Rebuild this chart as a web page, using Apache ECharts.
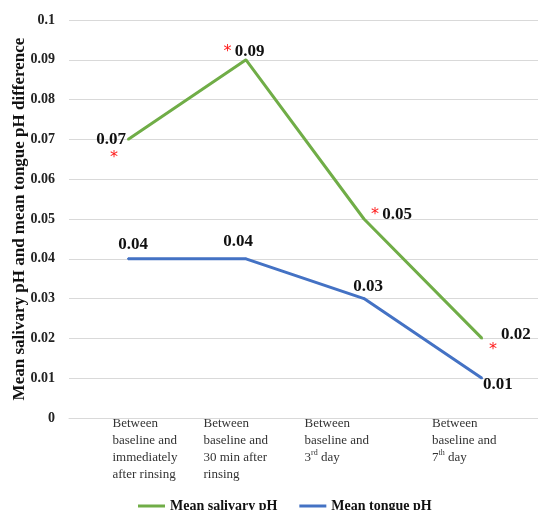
<!DOCTYPE html>
<html>
<head>
<meta charset="utf-8">
<script src="https://cdn.jsdelivr.net/npm/echarts@6/dist/echarts.min.js"></script>
<style>html,body{margin:0;padding:0;background:#fff}#c{width:538px;height:510px}</style>
</head>
<body>
<div id="c"></div>
<script>
const categories = [
  'Between\nbaseline and\nimmediately\nafter rinsing',
  'Between\nbaseline and\n30 min after\nrinsing',
  'Between\nbaseline and\n3rd day',
  'Between\nbaseline and\n7th day'
];
const salivary = [0.07, 0.09, 0.05, 0.02];
const tongue = [0.04, 0.04, 0.03, 0.01];
const salivarySig = [true, true, true, true];
const yTicks = [0, 0.01, 0.02, 0.03, 0.04, 0.05, 0.06, 0.07, 0.08, 0.09, 0.1];
const seriesNames = ['Mean salivary pH', 'Mean tongue pH'];

const SERIF = '"Liberation Serif","Times New Roman",serif';
const labelWidths = [31, 85, 119, 100];

function fmtCat(value, idx) {
  return value.split('\n').map(function (line) {
    const m = line.match(/^(\d+)(st|nd|rd|th)(.*)$/);
    if (m) return '{t|' + m[1] + '}{sup|' + m[2] + '}{t|' + m[3] + '}';
    return '{w' + idx + '|' + line + '}';
  }).join('\n');
}
const catRich = {
  t: {align: 'left', fontFamily: SERIF, fontSize: 13, color: '#333', lineHeight: 17},
  sup: {align: 'left', fontFamily: SERIF, fontSize: 8, color: '#333', lineHeight: 11, verticalAlign: 'top'}
};
labelWidths.forEach(function (w, i) {
  catRich['w' + i] = {width: w, align: 'left', fontFamily: SERIF, fontSize: 13, color: '#333', lineHeight: 17};
});

const valStyle = {fontFamily: SERIF, fontWeight: 'bold', fontSize: 17, color: '#111'};
const starStyle = {fontFamily: '"DejaVu Sans",sans-serif', fontSize: 16, color: '#ff1a1a'};

const gLabels = [
  {fmt: '{v|0.07}\n{s|*}{g|}', align: 'right', offset: [-2, 9],
   rich: {v: Object.assign({lineHeight: 18}, valStyle), s: Object.assign({lineHeight: 18}, starStyle), g: {width: 8, lineHeight: 18}}},
  {fmt: '{s|*} {v|0.09}', align: 'center', offset: [-2, -8],
   rich: {v: valStyle, s: starStyle}},
  {fmt: '{s|*} {v|0.05}', align: 'left', offset: [7, -4],
   rich: {v: valStyle, s: starStyle}},
  {fmt: '{p|}{v|0.02}\n{s|*}', align: 'left', offset: [7, 3],
   rich: {p: {width: 12, lineHeight: 16}, v: Object.assign({lineHeight: 16}, valStyle), s: Object.assign({lineHeight: 14}, starStyle)}}
];
const bLabels = [
  {align: 'center', offset: [5, -14]},
  {align: 'center', offset: [-8, -17]},
  {align: 'center', offset: [4, -12]},
  {align: 'left', offset: [1, 6]}
];

const green = '#70AD47', blue = '#4472C4';

const option = {
  animation: false,
  backgroundColor: '#fff',
  grid: {left: 69, top: 20, width: 472, height: 398, containLabel: false, outerBoundsMode: 'none'},
  legend: {
    data: seriesNames,
    left: 133, top: 494,
    icon: 'rect', itemWidth: 27, itemHeight: 3, itemGap: 22,
    textStyle: {fontFamily: SERIF, fontWeight: 'bold', fontSize: 14, color: '#111'}
  },
  xAxis: {
    type: 'category',
    data: categories,
    boundaryGap: true,
    axisLine: {show: true, lineStyle: {color: '#d9d9d9', width: 1}},
    axisTick: {show: false},
    axisLabel: {interval: 0, margin: -3, align: 'center', formatter: fmtCat, rich: catRich, lineHeight: 17}
  },
  yAxis: {
    type: 'value',
    min: 0, max: 0.1, interval: 0.01,
    name: 'Mean salivary pH and mean tongue pH difference',
    nameLocation: 'middle', nameGap: 41, nameRotate: 90, nameMoveOverlap: false,
    nameTextStyle: {fontFamily: SERIF, fontWeight: 'bold', fontSize: 17, color: '#111'},
    axisLine: {show: false},
    axisTick: {show: false},
    splitLine: {lineStyle: {color: '#d9d9d9', width: 1}},
    axisLabel: {
      margin: 14,
      fontFamily: SERIF, fontWeight: 'bold', fontSize: 14, color: '#222',
      formatter: function (v) { return String(parseFloat(v.toFixed(2))); }
    }
  },
  series: [
    {
      name: seriesNames[0], type: 'line',
      data: salivary.map(function (v, i) {
        const L = gLabels[i];
        return {value: v, label: {show: true, position: 'inside', align: L.align, verticalAlign: 'middle', offset: L.offset,
          formatter: salivarySig[i] ? L.fmt : L.fmt.replace(/\{s\|\*\}/, ''), rich: L.rich}};
      }),
      symbol: 'circle', symbolSize: 2,
      lineStyle: {color: green, width: 3},
      itemStyle: {color: green},
      z: 3
    },
    {
      name: seriesNames[1], type: 'line',
      data: tongue.map(function (v, i) {
        const L = bLabels[i];
        return {value: v, label: {show: true, position: 'inside', align: L.align, verticalAlign: 'middle', offset: L.offset,
          formatter: function (p) { return p.value.toFixed(2); },
          fontFamily: SERIF, fontWeight: 'bold', fontSize: 17, color: '#111'}};
      }),
      symbol: 'circle', symbolSize: 2,
      lineStyle: {color: blue, width: 3},
      itemStyle: {color: blue},
      z: 2
    }
  ]
};
const chart = echarts.init(document.getElementById('c'), null, {renderer: 'canvas'});
chart.setOption(option);
</script>
</body>
</html>
